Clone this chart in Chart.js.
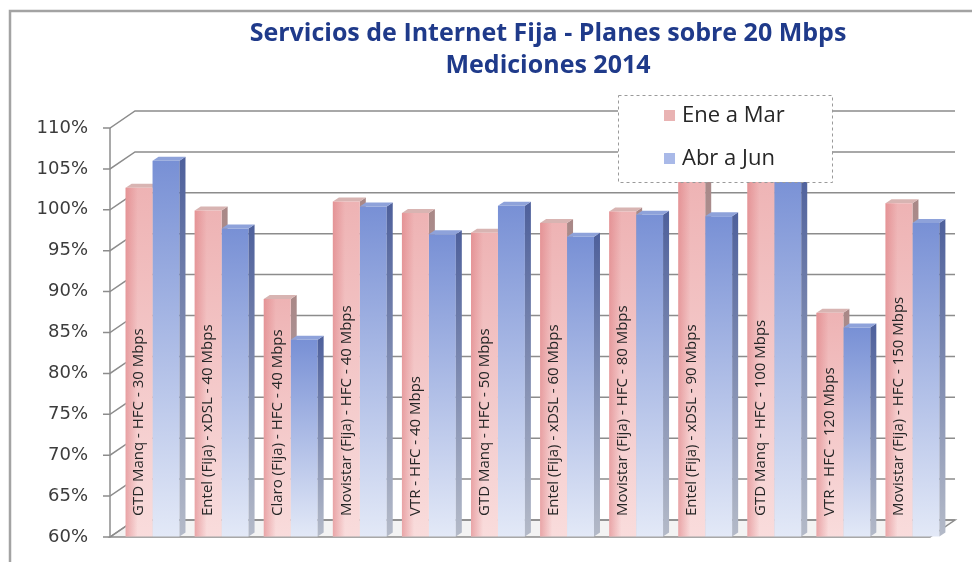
<!DOCTYPE html>
<html>
<head>
<meta charset="utf-8">
<script src="https://cdn.jsdelivr.net/npm/chart.js@4.4.1/dist/chart.umd.min.js"></script>
<style>
  html, body { margin: 0; padding: 0; background: #fff; }
  #wrap { width: 972px; height: 562px; }
</style>
</head>
<body>
<div id="wrap"><canvas id="myChart" width="972" height="562"></canvas></div>
<script>
// data
const planes = [
  "GTD Manq - HFC - 30 Mbps",
  "Entel (Fija) - xDSL - 40 Mbps",
  "Claro (Fija) - HFC - 40 Mbps",
  "Movistar (Fija) - HFC - 40 Mbps",
  "VTR - HFC - 40 Mbps",
  "GTD Manq - HFC - 50 Mbps",
  "Entel (Fija) - xDSL - 60 Mbps",
  "Movistar (Fija) - HFC - 80 Mbps",
  "Entel (Fija) - xDSL - 90 Mbps",
  "GTD Manq - HFC - 100 Mbps",
  "VTR - HFC - 120 Mbps",
  "Movistar (Fija) - HFC - 150 Mbps",
];
const seriesNames = ["Ene a Mar", "Abr a Jun"];
const eneMar = [102.7, 99.9, 89.1, 101.0, 99.6, 97.2, 98.4, 99.8, 104.0, 105.0, 87.4, 100.8];
const abrJun = [106.0, 97.7, 84.1, 100.4, 97.0, 100.5, 96.7, 99.4, 99.2, 104.5, 85.6, 98.4];
const yTicks = [60, 65, 70, 75, 80, 85, 90, 95, 100, 105, 110];
const titleLines = ["Servicios de Internet Fija - Planes sobre 20 Mbps", "Mediciones 2014"];

// look
const WALL_DX = 25, WALL_DY = 17;   // depth of the back wall
const BAR_DX = 6, BAR_DY = 4;       // depth of each column
const PINK = { top: "#eeb3b4", bottom: "#f9dcdc", side: "#a98887", cap: "#d8b4b2", key: "#e9b3b3" };
const BLUE = { top: "#7890d5", bottom: "#e3e9f7", side: "#4f619c", cap: "#8ea2da", key: "#a9b9e8" };

function columnFill(colors) {
  return (context) => {
    const chart = context.chart;
    if (!chart.chartArea || !chart.scales.y) return colors.top;
    const top = chart.scales.y.getPixelForValue(context.raw);
    const g = chart.ctx.createLinearGradient(0, top, 0, chart.chartArea.bottom);
    g.addColorStop(0, colors.top);
    g.addColorStop(1, colors.bottom);
    return g;
  };
}

function poly(ctx, pts, fill) {
  ctx.beginPath();
  ctx.moveTo(pts[0][0], pts[0][1]);
  for (let i = 1; i < pts.length; i++) ctx.lineTo(pts[i][0], pts[i][1]);
  ctx.closePath();
  ctx.fillStyle = fill;
  ctx.fill();
}

function geom(el) {
  const p = el.getProps(["x", "y", "base", "width"], true);
  return { l: p.x - p.width / 2, r: p.x + p.width / 2, t: p.y, b: p.base, cx: p.x };
}

// side + cap of every column of one dataset
function drawDepth(ctx, meta, colors) {
  meta.data.forEach((el) => {
    const g = geom(el);
    const sg = ctx.createLinearGradient(0, g.t, 0, g.b);
    sg.addColorStop(0, colors.side);
    sg.addColorStop(1, "#b4bac8");
    poly(ctx, [[g.r, g.t], [g.r + BAR_DX, g.t - BAR_DY], [g.r + BAR_DX, g.b - BAR_DY], [g.r, g.b]], sg);
    poly(ctx, [[g.l, g.t], [g.l + BAR_DX, g.t - BAR_DY], [g.r + BAR_DX, g.t - BAR_DY], [g.r, g.t]], colors.cap);
  });
}

const walls = {
  id: "walls",
  beforeDatasetsDraw(chart) {
    const { ctx, chartArea: a, scales: { y } } = chart;
    const fx = a.left - 8;
    const bx = fx + WALL_DX;
    const rx = a.right + 8;
    ctx.save();
    // outer frame of the picture
    ctx.strokeStyle = "#a3a3a3";
    ctx.lineWidth = 2.5;
    ctx.strokeRect(10, 11, chart.width + 20, chart.height + 20);
    // floor
    ctx.strokeStyle = "#8c8c8c";
    ctx.lineWidth = 1.5;
    ctx.beginPath();
    ctx.moveTo(fx, a.bottom);
    ctx.lineTo(rx - WALL_DX, a.bottom);
    ctx.lineTo(rx, a.bottom - WALL_DY);
    ctx.lineTo(bx, a.bottom - WALL_DY);
    ctx.closePath();
    ctx.fillStyle = "#f3f3f3";
    ctx.fill();
    ctx.stroke();
    // ticks, diagonals and back wall grid
    y.ticks.forEach((t) => {
      const py = y.getPixelForValue(t.value);
      ctx.beginPath();
      ctx.moveTo(fx - 7, py);
      ctx.lineTo(fx, py);
      ctx.lineTo(bx, py - WALL_DY);
      ctx.lineTo(rx, py - WALL_DY);
      ctx.stroke();
    });
    ctx.beginPath();
    ctx.moveTo(fx, a.top);
    ctx.lineTo(fx, a.bottom);
    ctx.stroke();
    // pink columns: side and cap go behind the blue ones
    drawDepth(ctx, chart.getDatasetMeta(0), PINK);
    ctx.restore();
  },
  afterDatasetsDraw(chart) {
    const { ctx, chartArea: a } = chart;
    ctx.save();
    drawDepth(ctx, chart.getDatasetMeta(1), BLUE);
    // darker left edge on the pink fronts, then the plan name
    chart.getDatasetMeta(0).data.forEach((el, i) => {
      const g = geom(el);
      const w = g.r - g.l;
      const sg = ctx.createLinearGradient(g.l, 0, g.l + w * 0.45, 0);
      sg.addColorStop(0, "rgba(220,120,124,0.55)");
      sg.addColorStop(1, "rgba(220,120,124,0)");
      ctx.fillStyle = sg;
      ctx.fillRect(g.l, g.t, w * 0.45, g.b - g.t);
      ctx.save();
      ctx.translate(g.cx, a.bottom - 21);
      ctx.rotate(-Math.PI / 2);
      ctx.font = "15px 'Open Sans'";
      ctx.fillStyle = "#262626";
      ctx.textAlign = "left";
      ctx.textBaseline = "middle";
      ctx.fillText(chart.data.labels[i], 0, 0);
      ctx.restore();
    });
    ctx.restore();
  },
  afterDraw(chart) {
    const ctx = chart.ctx;
    ctx.save();
    // title
    ctx.font = "bold 25px 'Open Sans'";
    ctx.fillStyle = "#1f3a8a";
    ctx.textAlign = "center";
    ctx.textBaseline = "middle";
    titleLines.forEach((line, i) => ctx.fillText(line, 548, 34 + i * 32));
    // legend box over the plot
    const bx = 618, by = 95, bw = 214, bh = 87;
    ctx.fillStyle = "#ffffff";
    ctx.fillRect(bx, by, bw, bh);
    ctx.setLineDash([3, 3]);
    ctx.strokeStyle = "#9a9a9a";
    ctx.lineWidth = 1;
    ctx.strokeRect(bx + 0.5, by + 0.5, bw, bh);
    ctx.setLineDash([]);
    const keys = [PINK.key, BLUE.key];
    chart.data.datasets.forEach((ds, i) => {
      const cy = 116 + i * 43;
      ctx.fillStyle = keys[i];
      ctx.fillRect(664, cy - 6, 11, 11);
      ctx.fillStyle = "#262626";
      ctx.font = "22px 'Open Sans'";
      ctx.textAlign = "left";
      ctx.fillText(ds.label, 682, cy);
    });
    ctx.restore();
  },
};

const config = {
  type: "bar",
  data: {
    labels: planes,
    datasets: [
      { label: seriesNames[0], data: eneMar, backgroundColor: columnFill(PINK), borderWidth: 0 },
      { label: seriesNames[1], data: abrJun, backgroundColor: columnFill(BLUE), borderWidth: 0 },
    ],
  },
  options: {
    responsive: false,
    animation: false,
    layout: { padding: { top: 128, right: 25, bottom: 25, left: 0 } },
    datasets: { bar: { categoryPercentage: 0.78, barPercentage: 1, base: yTicks[0] } },
    scales: {
      x: { display: false },
      y: {
        min: yTicks[0],
        max: yTicks[yTicks.length - 1],
        ticks: {
          stepSize: yTicks[1] - yTicks[0],
          callback: (v) => v + "%",
          color: "#3c3c3c",
          font: { family: "DejaVu Sans", size: 18 },
          padding: 0,
        },
        // transparent tick marks only push the labels away from the axis
        grid: { display: true, drawOnChartArea: false, drawTicks: true, tickLength: 30, color: "rgba(0,0,0,0)" },
        border: { display: false },
        afterFit: (scale) => { scale.width = 118; },
      },
    },
    plugins: {
      legend: { display: false },
      tooltip: { enabled: false },
      title: { display: false },
    },
  },
  plugins: [walls],
};

const myChart = new Chart(document.getElementById("myChart"), config);
</script>
</body>
</html>
